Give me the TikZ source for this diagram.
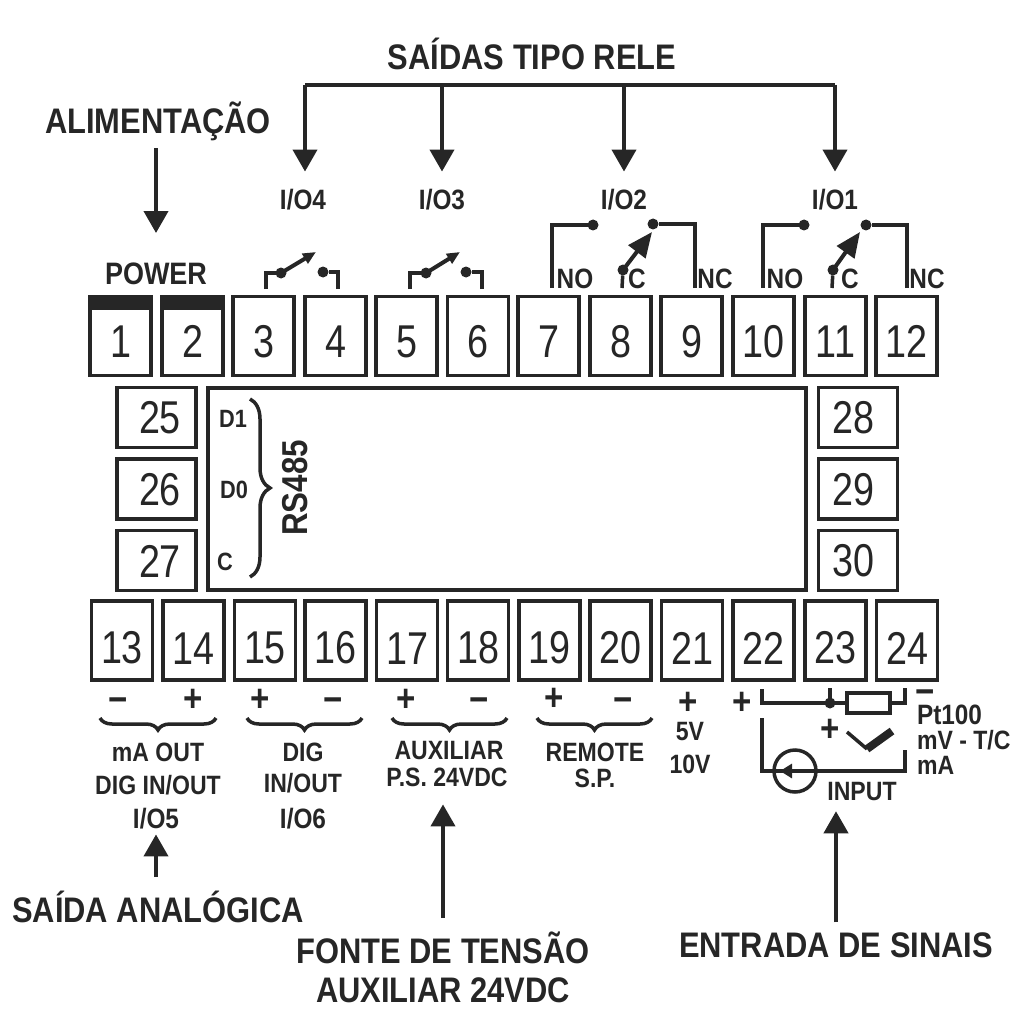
\documentclass[tikz,border=0pt]{standalone}
\usepackage{fontspec}
\setmainfont{Liberation Sans}
\newfontfamily\lblfont[FakeStretch=0.87]{Liberation Sans Bold}
\newfontfamily\numfont[FakeStretch=0.82]{Liberation Sans}
\usetikzlibrary{arrows.meta,decorations.pathreplacing}
\definecolor{ink}{HTML}{262626}

\begin{document}
\begin{tikzpicture}[
    x=1pt, y=-1pt, color=ink, text=ink,
    term/.style={draw,line width=3.5pt,inner sep=0,outer sep=0,minimum width=61pt,minimum height=79pt,font=\numfont\fontsize{46}{46}\selectfont},
    topterm/.style={term,text height=43pt},
    botterm/.style={term,text height=47pt},
    sideterm/.style={term,minimum width=79pt,minimum height=60pt,text height=33pt},
    head/.style={inner sep=0,outer sep=0,font=\lblfont\fontsize{35.5}{35.5}\selectfont},
    lbl/.style={inner sep=0,outer sep=0,font=\lblfont\fontsize{26.5}{26.5}\selectfont},
    iolbl/.style={inner sep=0,outer sep=0,font=\lblfont\fontsize{28}{28}\selectfont},
    tiny/.style={inner sep=0,outer sep=0,font=\lblfont\fontsize{25}{25}\selectfont},
    sign/.style={inner sep=0,outer sep=0,font=\lblfont\fontsize{38}{38}\selectfont},
    arr/.style={line width=4pt,-{Triangle[length=22pt,width=24pt]}},
    wire/.style={line width=3.5pt},
    pin/.style={circle,fill,inner sep=0,outer sep=0,minimum size=11pt},
    arm/.style={line width=4pt,-{Triangle[length=13pt,width=11pt]}},
    bigarm/.style={line width=4pt,-{Triangle[length=25pt,width=21pt]}},
    brc/.style={line width=3.5pt,decorate,decoration={brace,mirror,amplitude=12pt}}
]
\useasboundingbox (0,0) rectangle (1024,1024);

% top terminals
\node[topterm] (t1) at (120.5,336) {1};
\node[topterm] (t2) at (192.5,336) {2};
\node[topterm] (t3) at (263.5,336) {3};
\node[topterm] (t4) at (335.5,336) {4};
\node[topterm] (t5) at (406.5,336) {5};
\node[topterm] (t6) at (478,336) {6};
\node[topterm] (t7) at (548.5,336) {7};
\node[topterm] (t8) at (620.5,336) {8};
\node[topterm] (t9) at (691.5,336) {9};
\node[topterm] (t10) at (763.5,336) {10};
\node[topterm] (t11) at (835.5,336) {11};
\node[topterm] (t12) at (906.5,336) {12};
\fill (t1.north west) rectangle ++(61,13);
\fill (t2.north west) rectangle ++(61,13);

% bottom terminals
\node[botterm] (t13) at (122,640.5) {13};
\node[botterm] (t14) at (193.5,640.5) {14};
\node[botterm] (t15) at (265,640.5) {15};
\node[botterm] (t16) at (335.5,640.5) {16};
\node[botterm] (t17) at (407,640.5) {17};
\node[botterm] (t18) at (478,640.5) {18};
\node[botterm] (t19) at (549.5,640.5) {19};
\node[botterm] (t20) at (620.5,640.5) {20};
\node[botterm] (t21) at (692,640.5) {21};
\node[botterm] (t22) at (763.5,640.5) {22};
\node[botterm] (t23) at (835.5,640.5) {23};
\node[botterm] (t24) at (907,640.5) {24};

% side terminals and case
\node[sideterm] (t25) at (156.5,417.5) {\kern7pt 25};
\node[sideterm] (t26) at (156.5,489) {\kern7pt 26};
\node[sideterm] (t27) at (156.5,560.5) {\kern7pt 27};
\node[sideterm] (t28) at (858,417.5) {28\kern10pt};
\node[sideterm] (t29) at (858,489) {29\kern10pt};
\node[sideterm] (t30) at (858,560.5) {30\kern10pt};
\node[draw,line width=4pt,inner sep=0,outer sep=0,minimum width=598pt,minimum height=202pt] (case) at (507,489) {};

% RS485
\node[tiny] (d1) at (233,419) {D1};
\node[tiny] (d0) at (234,490) {D0};
\node[tiny] (dc) at (225,562) {C};
\node[inner sep=0,outer sep=0,font=\lblfont\fontsize{36}{36}\selectfont,rotate=90] (rs) at (295,488) {RS485};
\coordinate (rsa) at (250,399);
\coordinate (rsb) at (250,577);
\draw[wire,decorate,decoration={brace,amplitude=20pt,aspect=0.5}] (rsa) -- (rsb);

% relays
\node[head] (rele) at (532,54) {SAÍDAS TIPO RELE};
\coordinate (bus4) at (305,85);
\coordinate (bus3) at (442,85);
\coordinate (bus2) at (624,85);
\coordinate (bus1) at (835,85);
\node[iolbl] (io4) at (303,200) {I/O4};
\node[iolbl] (io3) at (442,200) {I/O3};
\node[iolbl] (io2) at (624,200) {I/O2};
\node[iolbl] (io1) at (835,200) {I/O1};
\draw[line width=4pt] (bus4) -- (bus1);
\draw[arr,shorten >=18pt] (bus4) -- (io4.north -| bus4);
\draw[arr,shorten >=18pt] (bus3) -- (io3);
\draw[arr,shorten >=18pt] (bus2) -- (io2);
\draw[arr,shorten >=18pt] (bus1) -- (io1);

% power
\node[head] (alim) at (158,121) {ALIMENTAÇÃO};
\node[lbl,font=\lblfont\fontsize{31}{31}\selectfont] (power) at (156,274) {POWER};
\draw[arr,shorten >=30pt,shorten <=8pt] (alim.south -| power) -- (power);

% open contacts
\coordinate (s3) at (266,289);
\coordinate (s4) at (338,289);
\coordinate (s5) at (410,289);
\coordinate (s6) at (482,289);
\node[pin] (p3) at (281,273) {};
\node[pin] (p4) at (323,272) {};
\node[pin] (p5) at (426,273) {};
\node[pin] (p6) at (466,272) {};
\coordinate (a3) at (316,252);
\coordinate (a5) at (460,252);
\draw[wire] (s3) |- (p3);
\draw[wire] (s4) |- (p4);
\draw[wire] (s5) |- (p5);
\draw[wire] (s6) |- (p6);
\draw[arm] (p3.center) -- (a3);
\draw[arm] (p5.center) -- (a5);

% changeover contacts
\coordinate (s7) at (552,288);
\coordinate (s8) at (622,288);
\coordinate (s9) at (695,288);
\coordinate (s10) at (763,288);
\coordinate (s11) at (832,288);
\coordinate (s12) at (907,288);
\node[pin] (p7) at (593,225) {};
\node[pin] (p8) at (623,270) {};
\node[pin] (p9) at (653,224) {};
\node[pin] (p10) at (804,225) {};
\node[pin] (p11) at (833,270) {};
\node[pin] (p12) at (866,225) {};
\coordinate (a8) at (652,232);
\coordinate (a11) at (860,232);
\draw[wire] (s7) |- (p7);
\draw[wire] (s8) -- (p8);
\draw[wire] (s9) |- (p9);
\draw[wire] (s10) |- (p10);
\draw[wire] (s11) -- (p11);
\draw[wire] (s12) |- (p12);
\draw[bigarm] (p8.center) -- (a8);
\draw[bigarm] (p11.center) -- (a11);
\node[iolbl] (no2) at (575,279) {NO};
\node[iolbl] (c2) at (637,279) {C};
\node[iolbl] (nc2) at (715,279) {NC};
\node[iolbl] (no1) at (785,279) {NO};
\node[iolbl] (c1) at (850,279) {C};
\node[iolbl] (nc1) at (927,279) {NC};

% signs
\node[sign] (m13) at (118,705) {−};
\node[sign] (p14) at (193,700) {+};
\node[sign] (p15) at (260,700) {+};
\node[sign] (m16) at (333,705) {−};
\node[sign] (p17) at (406,700) {+};
\node[sign] (m18) at (479,705) {−};
\node[sign] (p19) at (554,699) {+};
\node[sign] (m20) at (623,705) {−};
\node[sign] (p21) at (688,703) {+};
\node[sign] (p22) at (742,703) {+};

% braces
\coordinate (b1a) at (100,718);
\coordinate (b1b) at (216,718);
\coordinate (b2a) at (247,718);
\coordinate (b2b) at (362,718);
\coordinate (b3a) at (392,718);
\coordinate (b3b) at (507,718);
\coordinate (b4a) at (537,718);
\coordinate (b4b) at (652,718);
\draw[brc] (b1a) -- (b1b);
\draw[brc] (b2a) -- (b2b);
\draw[brc] (b3a) -- (b3b);
\draw[brc] (b4a) -- (b4b);

% bottom labels
\node[lbl] (maout) at (158,752) {mA OUT};
\node[lbl] (digio) at (158,785) {DIG IN/OUT};
\node[iolbl] (io5) at (156,819) {I/O5};
\node[lbl] (dig) at (303,752) {DIG};
\node[lbl] (inout) at (303,783) {IN/OUT};
\node[iolbl] (io6) at (303,819) {I/O6};
\node[lbl] (aux) at (449,751) {AUXILIAR};
\node[lbl] (ps) at (447,777) {P.S. 24VDC};
\node[lbl] (rem) at (595,752) {REMOTE};
\node[lbl] (sp) at (595,778) {S.P.};
\node[lbl] (v5) at (690,732) {5V};
\node[lbl] (v10) at (690,764) {10V};
\node[iolbl] (pt) at (917,715) [anchor=west] {Pt100};
\node[lbl] (mv) at (917,740) [anchor=west] {mV - T/C};
\node[lbl] (ma) at (917,765) [anchor=west] {mA};
\node[lbl] (inp) at (862,792) {INPUT};

% input
\coordinate (i1) at (762,689);
\coordinate (i2) at (830,688);
\coordinate (i3) at (905,688);
\coordinate (i4) at (762,718);
\coordinate (i5) at (905,750);
\node[pin] (ipin) at (830,703) {};
\node[draw,line width=3.5pt,inner sep=0,outer sep=0,minimum width=43pt,minimum height=20pt] (res) at (868.5,703) {};
\node[draw,circle,line width=3.5pt,inner sep=0,outer sep=0,minimum size=42pt] (src) at (795,771) {};
\coordinate (srctip) at (780,771);
\draw[wire] (i1) |- (res);
\draw[wire] (i2) -- (ipin);
\draw[wire] (i3) |- (res);
\node[sign] (mpt) at (925,697) {−};
\node[sign] (pmv) at (830,730) {+};
\coordinate (k1) at (847,732);
\coordinate (k2) at (867,749);
\coordinate (k3) at (892,731);
\draw[wire] (k1) -- (k2);
\draw[line width=8pt] (k2) -- (k3);
\draw[wire] (i4) |- (src.center);
\draw[wire] (i5) |- (src.center);
\draw[line width=3pt,-{Triangle[length=12pt,width=14pt]}] (src.center) -- (srctip);

% bottom arrows
\node[head] (ana) at (158,907) {SAÍDA ANALÓGICA};
\node[head] (fonte) at (443,948) {FONTE DE TENSÃO};
\node[head] (fonte2) at (443,990) {AUXILIAR 24VDC};
\node[head] (entr) at (836,945) {ENTRADA DE SINAIS};
\draw[arr,shorten <=14pt,shorten >=5pt] (ana.north -| io5) -- (io5);
\draw[arr,shorten >=18pt] (fonte.north) ++(0,-14) -- (ps.south -| fonte);
\draw[arr,shorten >=10pt] (entr.north) ++(0,-10) -- (inp.south -| entr);

\end{tikzpicture}
\end{document}
